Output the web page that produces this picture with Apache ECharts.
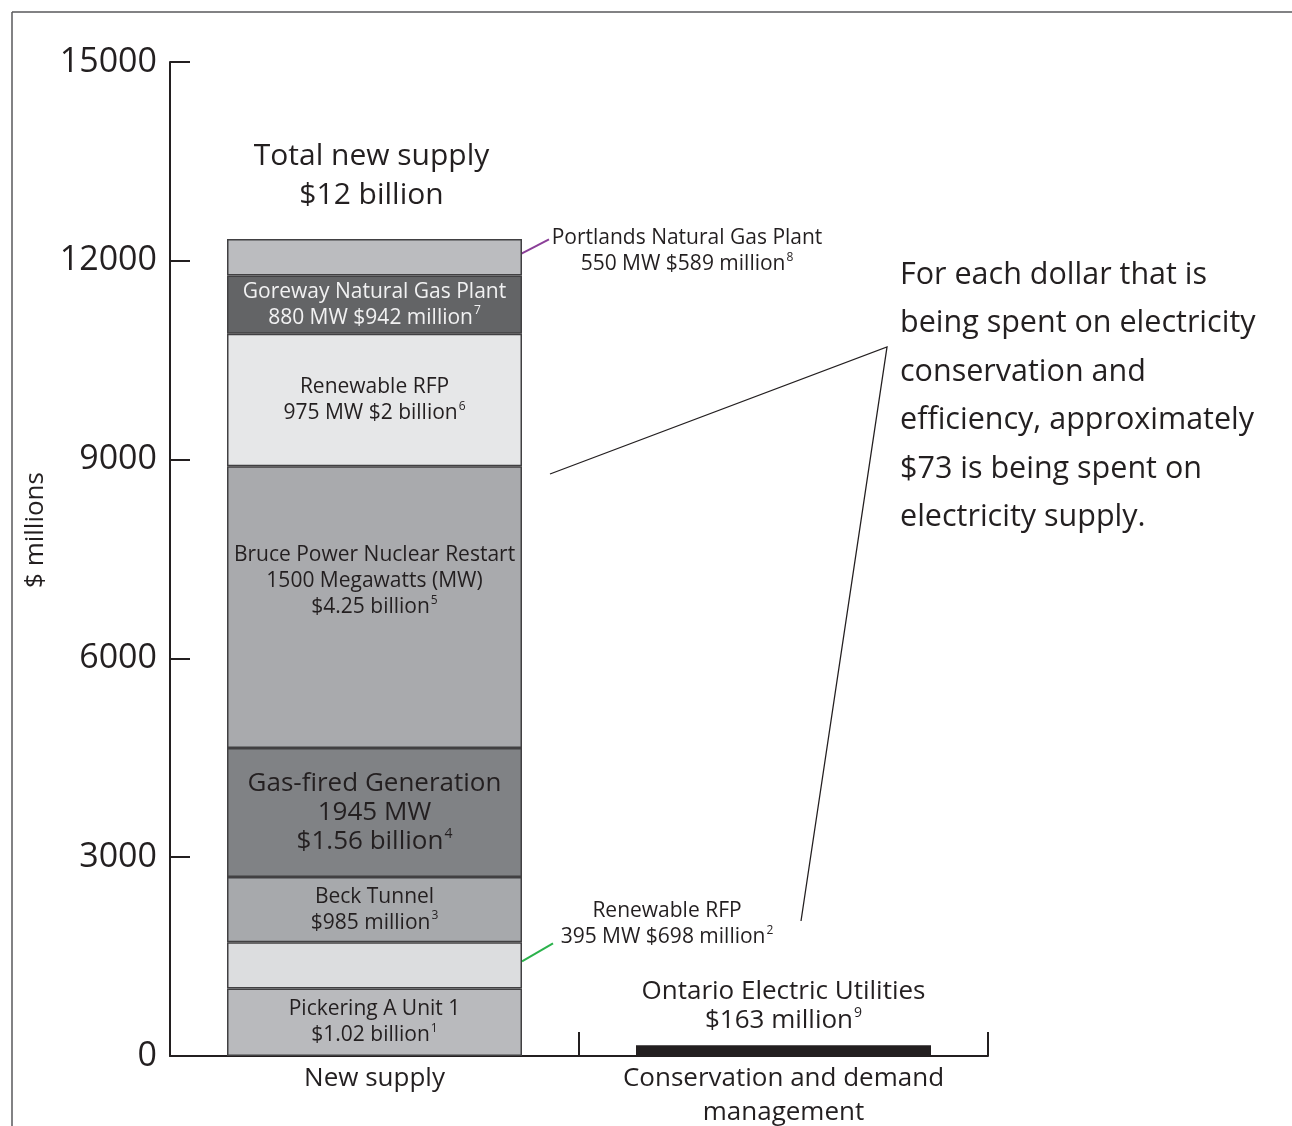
<!DOCTYPE html>
<html>
<head>
<meta charset="utf-8">
<script src="https://cdn.jsdelivr.net/npm/echarts@6/dist/echarts.min.js"></script>
<style>
html, body { margin: 0; padding: 0; background: #fff; }
#chart { width: 1292px; height: 1126px; }
</style>
</head>
<body>
<div id="chart"></div>
<script>
// data
var categories = ['New supply', 'Conservation and demand\nmanagement'];
var segNames = ['Pickering A Unit 1', 'Renewable RFP 395 MW', 'Beck Tunnel', 'Gas-fired Generation',
                'Bruce Power Nuclear Restart', 'Renewable RFP 975 MW', 'Goreway Natural Gas Plant', 'Portlands Natural Gas Plant'];
var segValues = [1020, 698, 985, 1945, 4250, 2000, 880, 550];
var segColors = ['#b9babd', '#dcdddf', '#a7a9ac', '#808285', '#a9aaad', '#e6e7e8', '#636466', '#bbbcbf'];
var conservationValue = 163;
var yTicks = [0, 3000, 6000, 9000, 12000, 15000];

var FONT = 'Open Sans';
var INK = '#231f20';

var segLabels = [
  '{t|Pickering A Unit 1}\n{t|$1.02 billion}{s|1}',
  null,
  '{t|Beck Tunnel}\n{t|$985 million}{s|3}',
  '{g|Gas-fired Generation}\n{g|1945 MW}\n{g|$1.56 billion}{gs|4}',
  '{t|Bruce Power Nuclear Restart}\n{t|1500 Megawatts (MW)}\n{t|$4.25 billion}{s|5}',
  '{t|Renewable RFP}\n{t|975 MW $2 billion}{s|6}',
  '{w|Goreway Natural Gas Plant}\n{w|880 MW $942 million}{ws|7}',
  null
];

var rich = {
  t: { fontFamily: FONT, fontSize: 21, lineHeight: 26, color: INK },
  s: { fontFamily: FONT, fontSize: 12, lineHeight: 18, color: INK, verticalAlign: 'top', padding: [0, 0, 0, 1] },
  g: { fontFamily: FONT, fontSize: 26, lineHeight: 29, color: INK },
  gs: { fontFamily: FONT, fontSize: 14, lineHeight: 20, color: INK, verticalAlign: 'top', padding: [0, 0, 0, 1] },
  w: { fontFamily: FONT, fontSize: 21, lineHeight: 26, color: '#f1f1f2' },
  ws: { fontFamily: FONT, fontSize: 12, lineHeight: 18, color: '#f1f1f2', verticalAlign: 'top', padding: [0, 0, 0, 1] },
  a: { fontFamily: FONT, fontSize: 26, lineHeight: 29, color: INK },
  as: { fontFamily: FONT, fontSize: 14, lineHeight: 20, color: INK, verticalAlign: 'top', padding: [0, 0, 0, 1] }
};

var BAR_W = 295;

var series = segValues.map(function (v, i) {
  var s = {
    name: segNames[i],
    type: 'bar',
    stack: 'total',
    barWidth: BAR_W,
    silent: true,
    data: [v, '-'],
    itemStyle: { color: segColors[i], borderColor: '#414042', borderWidth: 1.5 },
    label: { show: false }
  };
  if (segLabels[i]) {
    s.label = { show: true, position: 'inside', formatter: segLabels[i], rich: rich };
    if (i === 4) s.label.offset = [0, -26];
  }
  return s;
});

series.push({
  name: 'Ontario Electric Utilities',
  type: 'bar',
  stack: 'total',
  barWidth: BAR_W,
  silent: true,
  data: ['-', conservationValue],
  itemStyle: { color: INK },
  label: {
    show: true, position: 'top', distance: 10,
    formatter: '{a|Ontario Electric Utilities}\n{a|$163 million}{as|9}',
    rich: rich
  }
});

var option = {
  animation: false,
  backgroundColor: '#fff',
  textStyle: { fontFamily: FONT },
  grid: { left: 170, right: 304, top: 62, bottom: 70, containLabel: false, outerBoundsMode: 'none' },
  xAxis: {
    type: 'category',
    data: categories,
    axisLine: { lineStyle: { color: INK, width: 2 } },
    axisTick: { show: true, inside: true, length: 24, lineStyle: { color: INK, width: 2 } },
    axisLabel: { interval: 0, fontSize: 26, lineHeight: 34, color: INK, margin: 6, fontFamily: FONT }
  },
  yAxis: {
    type: 'value',
    min: yTicks[0],
    max: yTicks[yTicks.length - 1],
    interval: yTicks[1] - yTicks[0],
    name: '$ millions',
    nameLocation: 'middle',
    nameGap: 114,
    nameTextStyle: { fontSize: 26, color: INK, fontFamily: FONT, padding: [0, 0, 0, 58] },
    axisLine: { show: true, lineStyle: { color: INK, width: 2 } },
    axisTick: { show: true, inside: true, length: 20, lineStyle: { color: INK, width: 2 } },
    axisLabel: {
      fontSize: 34, color: INK, margin: 13, fontFamily: FONT,
      formatter: function (v) { return String(v); }
    },
    splitLine: { show: false }
  },
  series: series
};

var chart = echarts.init(document.getElementById('chart'));
chart.setOption(option);

function cum(n) {
  var s = 0;
  for (var i = 0; i < n; i++) s += segValues[i];
  return s;
}

var total = cum(segValues.length);
var topPt = chart.convertToPixel({ gridIndex: 0 }, [0, total]);
var portPt = chart.convertToPixel({ gridIndex: 0 }, [0, cum(7) + segValues[7] / 2]);
var renPt = chart.convertToPixel({ gridIndex: 0 }, [0, cum(1) + segValues[1] / 2]);
var barRight = topPt[0] + BAR_W / 2;

var smallRich = {
  t: { fontFamily: FONT, fontSize: 21, lineHeight: 26, fill: INK },
  s: { fontFamily: FONT, fontSize: 12, lineHeight: 18, fill: INK, verticalAlign: 'top', padding: [0, 0, 0, 1] }
};

chart.setOption({
  graphic: [
    // frame
    { type: 'line', shape: { x1: 12, y1: 12, x2: 1292, y2: 12 }, style: { stroke: '#58595b', lineWidth: 1.5 }, silent: true },
    { type: 'line', shape: { x1: 12, y1: 12, x2: 12, y2: 1126 }, style: { stroke: '#58595b', lineWidth: 1.5 }, silent: true },
    // total label
    {
      type: 'text', x: topPt[0] - 3, y: topPt[1] - 63,
      style: { text: 'Total new supply\n$12 billion', font: '30px "Open Sans"', lineHeight: 39, fill: INK, align: 'center', verticalAlign: 'middle' }
    },
    // Portlands callout
    {
      type: 'line', shape: { x1: barRight - 2, y1: portPt[1] - 3, x2: barRight + 27, y2: portPt[1] - 18 },
      style: { stroke: '#8b3f98', lineWidth: 2 }
    },
    {
      type: 'text', x: barRight + 165, y: portPt[1] - 6,
      style: { text: '{t|Portlands Natural Gas Plant}\n{t|550 MW $589 million}{s|8}', rich: smallRich, align: 'center', verticalAlign: 'middle' }
    },
    // Renewable RFP 395 callout
    {
      type: 'line', shape: { x1: barRight, y1: renPt[1] - 4, x2: barRight + 31, y2: renPt[1] - 22 },
      style: { stroke: '#2bb24c', lineWidth: 2 }
    },
    {
      type: 'text', x: barRight + 145, y: renPt[1] - 41,
      style: { text: '{t|Renewable RFP}\n{t|395 MW $698 million}{s|2}', rich: smallRich, align: 'center', verticalAlign: 'middle' }
    },
    // wedge
    {
      type: 'polyline', shape: { points: [[550, 474], [887, 347], [801, 921]] },
      style: { stroke: INK, lineWidth: 1.3, fill: null }
    },
    // comment paragraph
    {
      type: 'text', x: 900, y: 251,
      style: {
        text: 'For each dollar that is\nbeing spent on electricity\nconservation and\nefficiency, approximately\n$73 is being spent on\nelectricity supply.',
        font: '30.5px "Open Sans"', lineHeight: 48.5, fill: INK, align: 'left', verticalAlign: 'top'
      }
    }
  ]
});
</script>
</body>
</html>
